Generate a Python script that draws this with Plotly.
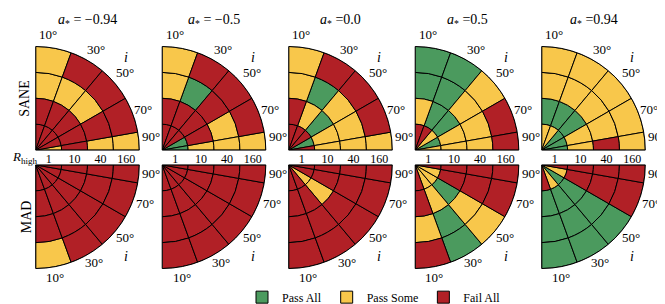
import plotly.graph_objects as go

# ---------------- data ----------------
spins = [-0.94, -0.5, 0.0, 0.5, 0.94]
spin_labels = ["−0.94", "−0.5", "0.0", "0.5", "0.94"]
rhigh_labels = ["1", "10", "40", "160"]
incl_ticks = [10, 30, 50, 70, 90]
incl_edges = [0, 20, 40, 60, 80, 90]
rows = ["SANE", "MAD"]

# status per spin -> per inclination bin (10,30,50,70,90) -> string over R_high (1,10,40,160)
# P = Pass All, S = Pass Some, F = Fail All
sane = [
    ["FFSS", "FFSF", "FFSF", "FFFF", "SFSS"],   # a* = -0.94
    ["FFSS", "FFPF", "FFFF", "PFSF", "PSSS"],   # a* = -0.5
    ["FFSS", "FSPF", "FPSF", "PSSF", "FSSS"],   # a* = 0.0
    ["FSPP", "FPPP", "SPSS", "PSSF", "SSSF"],   # a* = 0.5
    ["SPSS", "SPSS", "PPSS", "PSSS", "PSFS"],   # a* = 0.94
]
mad = [
    ["FFFS", "FFFF", "FFFF", "FFFF", "FFFF"],   # a* = -0.94
    ["FFFF", "FFFF", "FFFF", "FFFF", "FFFF"],   # a* = -0.5
    ["FFFF", "FFFF", "SSFF", "FFFF", "FFFF"],   # a* = 0.0
    ["FFSF", "SSPP", "SPSS", "SFFF", "FFFF"],   # a* = 0.5
    ["FPPP", "SPPP", "PPPP", "SFFF", "FFFF"],   # a* = 0.94
]
status_names = {"P": "Pass All", "S": "Pass Some", "F": "Fail All"}
status_rank = {"P": 1, "S": 2, "F": 3}
colors = {"P": "#4b9a5e", "S": "#f8c74b", "F": "#b12026"}

# ---------------- layout geometry (page pixels) ----------------
W, H = 665, 304
FONT = "Liberation Serif"
col_x0 = [27, 153.5, 280, 406.5, 533]
R_PX = 105
top_origin_y, bot_origin_y = 144, 159
# angular tick-label offsets (px from panel origin) for each row
top_lab_off = [(13, -117), (61, -102), (90, -79), (108, -41), (116, -14)]
bot_lab_off = [(20, 114), (59, 99), (90, 74), (110, 39), (116, 9)]
i_off_top, i_off_bot = (91, -94), (91, 93)


def fx(x):
    return x / W


def fy(y):
    return 1 - y / H


fig = go.Figure()
shown = set()
layout_polars = {}
annotations = []


def ann(x, y, text, size=13, angle=0):
    annotations.append(dict(x=fx(x), y=fy(y), xref="paper", yref="paper", text=text,
                            showarrow=False, xanchor="center", yanchor="middle",
                            textangle=angle,
                            font=dict(family=FONT, size=size, color="black")))


for row, data in enumerate([sane, mad]):
    for col in range(5):
        idx = row * 5 + col + 1
        pname = "polar" if idx == 1 else f"polar{idx}"
        for st in ["P", "S", "F"]:
            th, wd, bs, rr = [], [], [], []
            for s in range(5):
                for ring in range(4):
                    if data[col][s][ring] == st:
                        th.append((incl_edges[s] + incl_edges[s + 1]) / 2)
                        wd.append(incl_edges[s + 1] - incl_edges[s])
                        bs.append(ring)
                        rr.append(1)
            if not rr:
                continue
            show = st not in shown
            shown.add(st)
            fig.add_trace(go.Barpolar(
                r=rr, base=bs, theta=th, width=wd, subplot=pname,
                marker=dict(color=colors[st], line=dict(color="black", width=1)),
                name=status_names[st], legendgroup=st, legendrank=status_rank[st],
                showlegend=show, hoverinfo="skip"))

        x0 = col_x0[col]
        if row == 0:
            oy = top_origin_y
            yd = [fy(oy), fy(oy - R_PX)]
            sector = [0, 90]
            rotation, direction = 90, "clockwise"
            offs, ioff = top_lab_off, i_off_top
        else:
            oy = bot_origin_y
            yd = [fy(oy + R_PX), fy(oy)]
            sector = [270, 360]
            rotation, direction = -90, "counterclockwise"
            offs, ioff = bot_lab_off, i_off_bot
        layout_polars[pname] = dict(
            domain=dict(x=[fx(x0), fx(x0 + R_PX)], y=yd),
            sector=sector, bgcolor="white", bargap=0,
            angularaxis=dict(rotation=rotation, direction=direction,
                             tickvals=incl_ticks, showticklabels=False,
                             showgrid=False, showline=True, linecolor="black", linewidth=1,
                             ticks=""),
            radialaxis=dict(range=[0, 4], tickvals=[0.5, 1.5, 2.5, 3.5], ticktext=rhigh_labels,
                            showgrid=False, showline=False, ticks="", angle=0,
                            showticklabels=(row == 0), tickangle=0,
                            tickfont=dict(family=FONT, size=12, color="black")),
        )
        for t, (dx, dy) in zip(incl_ticks, offs):
            ann(x0 + dx, oy + dy, f"{t}°", size=13)
        ann(x0 + ioff[0], oy + ioff[1], "<i>i</i>", size=14)

for col in range(5):
    cx = col_x0[col] + R_PX / 2
    lab = spin_labels[col]
    eq = " = " if lab.startswith("−") else " ="
    ann(cx, 13, f"<i>a</i><sub>*</sub>{eq}{lab}", size=14)

ann(17, 92, "SANE", size=14, angle=-90)
ann(18, 212, "MAD", size=14, angle=-90)
ann(17, 151, "<i>R</i><sub>high</sub>", size=13)

fig.update_layout(
    width=W, height=H, margin=dict(l=0, r=0, t=0, b=0),
    paper_bgcolor="white", plot_bgcolor="white",
    annotations=annotations,
    legend=dict(orientation="h", x=fx(366), xanchor="center", y=fy(293), yanchor="middle",
                font=dict(family=FONT, size=12, color="black"), itemwidth=30,
                bgcolor="rgba(0,0,0,0)"),
    **layout_polars,
)

fig.write_html("out.html")
